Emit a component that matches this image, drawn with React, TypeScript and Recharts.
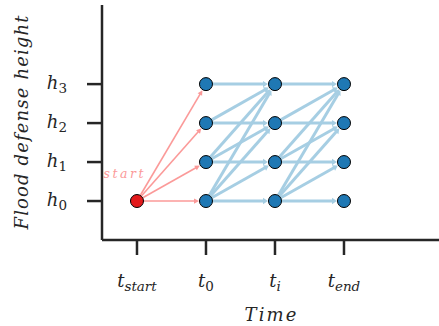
import React from 'react';
import { ComposedChart, XAxis, YAxis, Scatter, ReferenceLine, LabelList } from 'recharts';

// ---- data ----
const timeSteps = [0, 1, 2, 3];
const timeSubscripts = ['start', '0', 'i', 'end'];
const heightLevels = [0, 1, 2, 3];
const heightSubscripts = ['0', '1', '2', '3'];
const startNode = [{ t: 0, h: 0 }];
const decisionTimes = [1, 2, 3];
// [fromLevel, toLevel] transitions
const startTransitions = [[0, 0], [0, 1], [0, 2], [0, 3]];
const upgradeTransitions = [
  [0, 0], [0, 1], [0, 2], [0, 3],
  [1, 1], [1, 2], [1, 3],
  [2, 2], [2, 3],
  [3, 3],
];
// [fromTime, toTime]
const upgradeStages = [[1, 2], [2, 3]];

const decisionNodes = decisionTimes.flatMap((t) => heightLevels.map((h) => ({ t, h })));

// ---- styles ----
const AXIS = '#262626';
const PINK = '#fb9a99';
const LIGHT_BLUE = '#a6cee3';
const DARK_BLUE = '#1f78b4';
const RED = '#e31a1c';
const NODE_R = 6.5;
const FONT = "'DejaVu Serif', serif";

const isDigits = (s: string) => /^[0-9]+$/.test(s);

const makeArrow = (color: string, width: number, headLen: number, headW: number) => (props: any) => {
  const x1 = Number(props.x1), y1 = Number(props.y1), x2 = Number(props.x2), y2 = Number(props.y2);
  const dx = x2 - x1, dy = y2 - y1;
  const len = Math.hypot(dx, dy) || 1;
  const ux = dx / len, uy = dy / len;
  const tipX = x2 - ux * (NODE_R + 0.5);
  const tipY = y2 - uy * (NODE_R + 0.5);
  const bx = tipX - ux * headLen, by = tipY - uy * headLen;
  const px = -uy, py = ux;
  const pts = `${tipX},${tipY} ${bx + px * headW},${by + py * headW} ${bx - px * headW},${by - py * headW}`;
  return (
    <g>
      <line x1={x1} y1={y1} x2={bx + ux} y2={by + uy} stroke={color} strokeWidth={width} />
      <polygon points={pts} fill={color} stroke="none" />
    </g>
  );
};

const pinkArrow = makeArrow(PINK, 1.6, 5, 2.6);
const blueArrow = makeArrow(LIGHT_BLUE, 3, 5, 3.2);

const txtStyle = (size: number, italic: boolean) => ({
  fontFamily: FONT,
  fontSize: size,
  fontStyle: italic ? 'italic' : 'normal',
});

const XTick = (props: any) => {
  const { x, y, payload } = props;
  const idx = timeSteps.indexOf(payload.value);
  const sub = timeSubscripts[idx] ?? '';
  return (
    <text x={x} y={y + 32} textAnchor="middle" fill={AXIS} style={txtStyle(18, true)}>
      <tspan style={txtStyle(18, true)}>t</tspan>
      <tspan style={txtStyle(13.5, !isDigits(sub))} dy={4}>{sub}</tspan>
    </text>
  );
};

const YTick = (props: any) => {
  const { x, y, payload } = props;
  const idx = heightLevels.indexOf(payload.value);
  const sub = heightSubscripts[idx] ?? '';
  return (
    <text x={x - 20} y={y + 5} textAnchor="end" fill={AXIS} style={txtStyle(18, true)}>
      <tspan style={txtStyle(18, true)}>h</tspan>
      <tspan style={txtStyle(13.5, !isDigits(sub))} dy={4}>{sub}</tspan>
    </text>
  );
};

const XTitle = (props: any) => {
  const vb = props.viewBox || {};
  return (
    <text x={vb.x + vb.width / 2} y={321} textAnchor="middle" style={txtStyle(18, true)}
      fill={AXIS} textLength={52} lengthAdjust="spacing">Time</text>
  );
};

const YTitle = (props: any) => {
  const vb = props.viewBox || {};
  const cx = 28;
  const cy = vb.y + vb.height / 2;
  return (
    <text x={cx} y={cy} transform={`rotate(-90, ${cx}, ${cy})`} textAnchor="middle"
      style={txtStyle(18, true)} fill={AXIS} textLength={214} lengthAdjust="spacing">Flood defense height</text>
  );
};

const NodeShape = (fill: string) => (props: any) => (
  <circle cx={props.cx} cy={props.cy} r={NODE_R} fill={fill} stroke="#000" strokeWidth={1} />
);

const StartLabel = (props: any) => (
  <text x={Number(props.x) - 9} y={Number(props.y) - 19} textAnchor="middle"
    style={txtStyle(12.5, true)} fill={PINK} textLength={40} lengthAdjust="spacing">start</text>
);

export default function App() {
  return (
    <div style={{ position: 'absolute', left: 0, top: 0, width: 439, height: 326, background: '#fff' }}>
      <ComposedChart width={439} height={326} margin={{ top: 5, right: 0, bottom: 0, left: 0 }}>
        <XAxis
          dataKey="t"
          type="number"
          domain={[-0.507, 4.377]}
          ticks={timeSteps}
          height={86}
          tickSize={15}
          tickMargin={0}
          axisLine={{ stroke: AXIS, strokeWidth: 2.5 }}
          tickLine={{ stroke: AXIS, strokeWidth: 2.5 }}
          tick={<XTick />}
          label={{ content: XTitle }}
          allowDataOverflow
        />
        <YAxis
          dataKey="h"
          type="number"
          domain={[-1, 5.03]}
          ticks={heightLevels}
          width={102}
          tickSize={15}
          tickMargin={0}
          axisLine={{ stroke: AXIS, strokeWidth: 2.5 }}
          tickLine={{ stroke: AXIS, strokeWidth: 2.5 }}
          tick={<YTick />}
          label={{ content: YTitle }}
          allowDataOverflow
        />
        {startTransitions.map(([a, b], i) => (
          <ReferenceLine
            key={`s${i}`}
            segment={[{ x: startNode[0].t, y: a }, { x: decisionTimes[0], y: b }]}
            shape={pinkArrow}
            ifOverflow="visible"
          />
        ))}
        {upgradeStages.flatMap(([t1, t2], si) =>
          upgradeTransitions.map(([a, b], i) => (
            <ReferenceLine
              key={`u${si}-${i}`}
              segment={[{ x: t1, y: a }, { x: t2, y: b }]}
              shape={blueArrow}
              ifOverflow="visible"
            />
          ))
        )}
        <Scatter data={decisionNodes} dataKey="h" shape={NodeShape(DARK_BLUE)} isAnimationActive={false} />
        <Scatter data={startNode} dataKey="h" shape={NodeShape(RED)} isAnimationActive={false}>
          <LabelList dataKey="h" content={StartLabel} />
        </Scatter>
      </ComposedChart>
    </div>
  );
}
